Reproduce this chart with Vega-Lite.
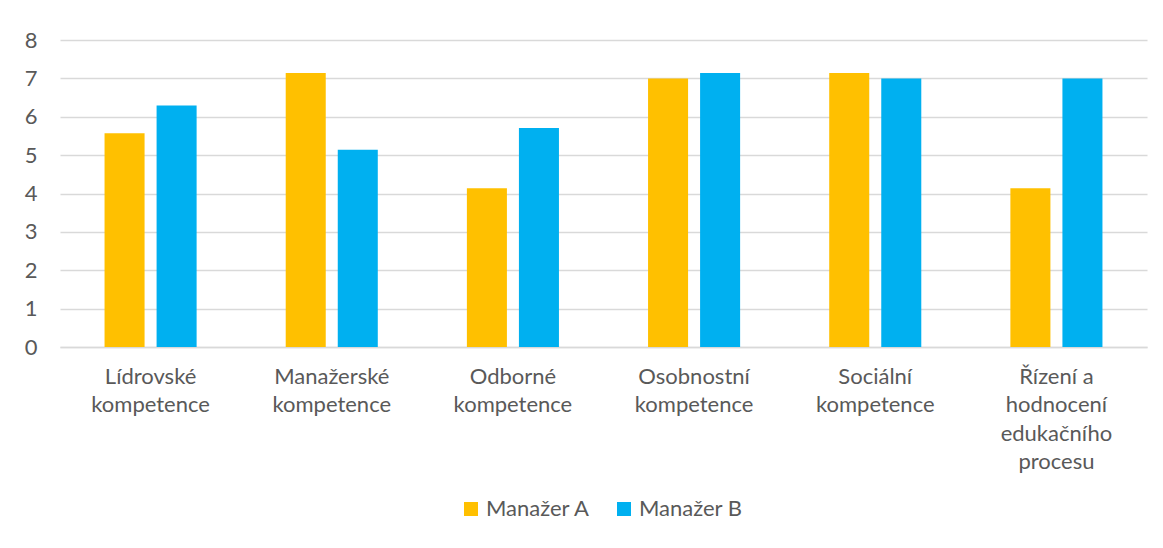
{
  "$schema": "https://vega.github.io/schema/vega-lite/v6.json",
  "width": 1087,
  "height": 307,
  "autosize": {"type": "none"},
  "padding": {"left": 60, "top": 40, "right": 16, "bottom": 201},
  "background": "white",
  "config": {
    "view": {"stroke": null},
    "font": "Lato",
    "axis": {"labelFont": "Lato", "labelColor": "#595959", "labelFontSize": 22},
    "legend": {"labelFont": "Lato", "labelColor": "#595959", "labelFontSize": 22}
  },
  "data": {
    "values": [
      {"kategorie": "Lídrovské kompetence", "manazer": "Manažer A", "hodnota": 5.57},
      {"kategorie": "Lídrovské kompetence", "manazer": "Manažer B", "hodnota": 6.29},
      {"kategorie": "Manažerské kompetence", "manazer": "Manažer A", "hodnota": 7.14},
      {"kategorie": "Manažerské kompetence", "manazer": "Manažer B", "hodnota": 5.14},
      {"kategorie": "Odborné kompetence", "manazer": "Manažer A", "hodnota": 4.14},
      {"kategorie": "Odborné kompetence", "manazer": "Manažer B", "hodnota": 5.71},
      {"kategorie": "Osobnostní kompetence", "manazer": "Manažer A", "hodnota": 7.0},
      {"kategorie": "Osobnostní kompetence", "manazer": "Manažer B", "hodnota": 7.14},
      {"kategorie": "Sociální kompetence", "manazer": "Manažer A", "hodnota": 7.14},
      {"kategorie": "Sociální kompetence", "manazer": "Manažer B", "hodnota": 7.0},
      {"kategorie": "Řízení a hodnocení edukačního procesu", "manazer": "Manažer A", "hodnota": 4.14},
      {"kategorie": "Řízení a hodnocení edukačního procesu", "manazer": "Manažer B", "hodnota": 7.0}
    ]
  },
  "mark": {"type": "bar"},
  "encoding": {
    "x": {
      "field": "kategorie",
      "type": "nominal",
      "sort": null,
      "scale": {"paddingInner": 0, "paddingOuter": 0},
      "axis": {
        "title": null,
        "labelAngle": 0,
        "ticks": false,
        "domainColor": "#D9D9D9",
        "domainWidth": 1.5,
        "labelPadding": 19,
        "labelLineHeight": 28.5,
        "labelExpr": "datum.value == 'Řízení a hodnocení edukačního procesu' ? ['Řízení a', 'hodnocení', 'edukačního', 'procesu'] : split(datum.value, ' ')"
      }
    },
    "xOffset": {
      "field": "manazer",
      "type": "nominal",
      "scale": {"paddingInner": 0.2308, "paddingOuter": 0.856}
    },
    "y": {
      "field": "hodnota",
      "type": "quantitative",
      "scale": {"domain": [0, 8]},
      "axis": {
        "title": null,
        "values": [0, 1, 2, 3, 4, 5, 6, 7, 8],
        "labelOverlap": false,
        "domain": false,
        "ticks": false,
        "gridColor": "#D9D9D9",
        "gridWidth": 1.5,
        "labelPadding": 23
      }
    },
    "color": {
      "field": "manazer",
      "type": "nominal",
      "scale": {"domain": ["Manažer A", "Manažer B"], "range": ["#FFC000", "#00B0F0"]},
      "legend": {
        "title": null,
        "orient": "none",
        "direction": "horizontal",
        "legendX": 400,
        "legendY": 458,
        "symbolType": "square",
        "symbolSize": 196,
        "symbolStrokeWidth": 0,
        "symbolOpacity": 1,
        "labelOffset": 4,
        "columnPadding": 22,
        "padding": 0
      }
    }
  }
}
